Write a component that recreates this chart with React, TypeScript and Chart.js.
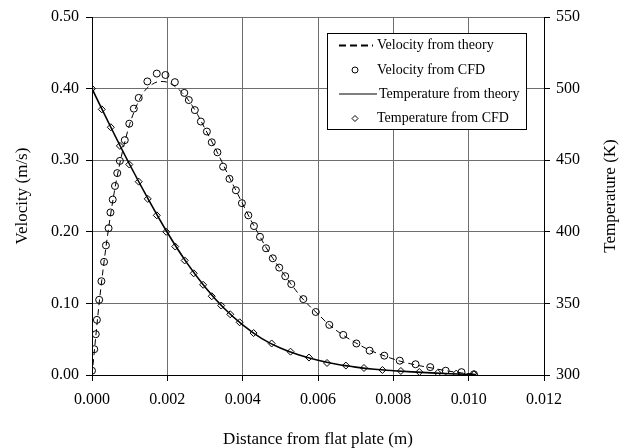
import React, { useEffect, useRef } from "react";
import { Chart, registerables } from "chart.js";

Chart.register(...registerables);

// Distance from the plate (m) and velocity (m/s) computed by CFD
const velCfdX = [
  0.0, 0.00006, 0.0001, 0.00013, 0.00019, 0.00025, 0.00032, 0.00037, 0.00044, 0.00049,
  0.00055, 0.00061, 0.00067, 0.00074, 0.00087, 0.00099, 0.00111, 0.00124, 0.00147, 0.00172,
  0.00195, 0.0022, 0.00245, 0.00257, 0.00273, 0.00289, 0.00305, 0.00318, 0.00333, 0.00348,
  0.00365, 0.00382, 0.00398, 0.00415, 0.0043, 0.00446, 0.00462, 0.0048, 0.00497, 0.00513,
  0.00529, 0.00561, 0.00594, 0.0063, 0.00667, 0.00702, 0.00737, 0.00776, 0.00817, 0.00859,
  0.00898, 0.00939, 0.00981, 0.01014,
];
const velCfdY = [
  0.006, 0.036, 0.057, 0.077, 0.105, 0.131, 0.158, 0.181, 0.205, 0.227,
  0.245, 0.264, 0.282, 0.299, 0.328, 0.351, 0.372, 0.387, 0.41, 0.421,
  0.419, 0.409, 0.394, 0.384, 0.37, 0.354, 0.34, 0.325, 0.311, 0.291,
  0.274, 0.258, 0.24, 0.223, 0.208, 0.193, 0.177, 0.163, 0.15, 0.138,
  0.127, 0.106, 0.088, 0.07, 0.056, 0.044, 0.034, 0.027, 0.02, 0.015,
  0.011, 0.006, 0.004, 0.001,
];

// Velocity profile from theory
const velTheoryX = [
  0.0, 0.0002, 0.0004, 0.0006, 0.0008, 0.001, 0.0012, 0.0014, 0.0016, 0.0018,
  0.002, 0.0022, 0.0024, 0.0026, 0.0028, 0.003, 0.0032, 0.0034, 0.0036, 0.0038,
  0.004, 0.0042, 0.0044, 0.0046, 0.0048, 0.005, 0.0052, 0.0054, 0.0056, 0.0058,
  0.006, 0.0063, 0.0066, 0.007, 0.0074, 0.0078, 0.0082, 0.0086, 0.009, 0.0094,
  0.0098, 0.0102,
];
const velTheoryY = [
  0.0, 0.105, 0.19, 0.258, 0.31, 0.35, 0.378, 0.397, 0.406, 0.41,
  0.409, 0.403, 0.394, 0.381, 0.364, 0.344, 0.324, 0.303, 0.281, 0.26,
  0.239, 0.218, 0.199, 0.18, 0.163, 0.148, 0.133, 0.119, 0.106, 0.095,
  0.085, 0.07, 0.058, 0.045, 0.034, 0.026, 0.019, 0.014, 0.01, 0.006,
  0.003, 0.001,
];

// Temperature (K) computed by CFD
const tempCfdX = [
  0.0, 0.00026, 0.0005, 0.00074, 0.00099, 0.00124, 0.00148, 0.00172, 0.00197, 0.00221,
  0.00246, 0.0027, 0.00295, 0.00318, 0.00343, 0.00367, 0.00392, 0.00429, 0.00477, 0.00527,
  0.00576, 0.00624, 0.00674, 0.00722, 0.00771, 0.0082, 0.00869, 0.00918, 0.00967, 0.01014,
];
const tempCfdY = [
  500, 485.5, 473, 460, 447, 435, 423, 411.5, 400, 389.7,
  380, 371, 363, 355, 348.5, 342.4, 336.8, 329.3, 322, 316.3,
  312.2, 308.4, 306.6, 304.9, 303.5, 302.8, 302.1, 301.4, 301, 300.5,
];

// Temperature profile from theory
const tempTheoryX = [
  0.0, 0.0005, 0.001, 0.0015, 0.002, 0.0025, 0.003, 0.0035, 0.004, 0.0045,
  0.005, 0.0055, 0.006, 0.0065, 0.007, 0.0075, 0.008, 0.0085, 0.009, 0.0095, 0.0102,
];
const tempTheoryY = [
  500, 473, 447, 422.5, 399.5, 379, 361.5, 346.8, 335, 325.6,
  318.8, 314, 310.3, 307.5, 305.5, 304, 303, 302.2, 301.5, 300.9, 300.3,
];

const legendLabels = [
  "Velocity from theory",
  "Velocity from CFD",
  "Temperature from theory",
  "Temperature from CFD",
];

const xTitle = "Distance from flat plate (m)";
const yTitle = "Velocity (m/s)";
const y2Title = "Temperature (K)";

const FONT = "'Liberation Serif', 'Times New Roman', serif";
const GRID = "#6e6e6e";

const zip = (xs: number[], ys: number[]) => xs.map((x, i) => ({ x, y: ys[i] }));

const overlayPlugin = {
  id: "overlay",
  afterDraw(chart: any) {
    const ctx: CanvasRenderingContext2D = chart.ctx;
    const area = chart.chartArea;
    ctx.save();
    ctx.fillStyle = "#000";
    ctx.font = `17px ${FONT}`;

    // axis titles
    ctx.textAlign = "center";
    ctx.textBaseline = "alphabetic";
    ctx.fillText(xTitle, (area.left + area.right) / 2, 444);

    ctx.textBaseline = "middle";
    const midY = (area.top + area.bottom) / 2;
    ctx.save();
    ctx.translate(23, midY);
    ctx.rotate(-Math.PI / 2);
    ctx.fillText(yTitle, 0, 0);
    ctx.restore();
    ctx.save();
    ctx.translate(611, midY);
    ctx.rotate(-Math.PI / 2);
    ctx.fillText(y2Title, 0, 0);
    ctx.restore();

    // legend box
    const bx = 327.5, by = 33.5, bw = 199, bh = 96;
    ctx.fillStyle = "#fff";
    ctx.fillRect(bx, by, bw, bh);
    ctx.strokeStyle = "#000";
    ctx.lineWidth = 1;
    ctx.strokeRect(bx, by, bw, bh);

    const rows = [45.5, 70, 94, 118.5];
    const sx0 = 339, sx1 = 371, sc = 355, tx = 377;
    ctx.font = `14px ${FONT}`;
    ctx.fillStyle = "#000";
    ctx.textAlign = "left";
    ctx.textBaseline = "middle";
    legendLabels.forEach((label, i) => {
      ctx.fillText(label, i === 2 ? tx + 2 : tx, rows[i]);
    });

    // row 1: dashed line
    ctx.beginPath();
    ctx.setLineDash([7, 4]);
    ctx.lineWidth = 2;
    ctx.moveTo(sx0, rows[0]);
    ctx.lineTo(sx1 + 2, rows[0]);
    ctx.stroke();
    ctx.setLineDash([]);

    // row 2: circle
    ctx.lineWidth = 1;
    ctx.beginPath();
    ctx.arc(sc, rows[1], 3, 0, Math.PI * 2);
    ctx.stroke();

    // row 3: solid line
    ctx.beginPath();
    ctx.moveTo(sx0, rows[2]);
    ctx.lineTo(tx, rows[2]);
    ctx.stroke();

    // row 4: diamond
    const d = 3;
    ctx.beginPath();
    ctx.moveTo(sc, rows[3] - d);
    ctx.lineTo(sc + d, rows[3]);
    ctx.lineTo(sc, rows[3] + d);
    ctx.lineTo(sc - d, rows[3]);
    ctx.closePath();
    ctx.stroke();

    ctx.restore();
  },
};

export default function App() {
  const canvasRef = useRef<HTMLCanvasElement | null>(null);

  useEffect(() => {
    if (!canvasRef.current) return;
    const tickFont = { family: FONT, size: 16 };
    const chart = new Chart(canvasRef.current, {
      type: "scatter",
      data: {
        datasets: [
          {
            label: legendLabels[0],
            data: zip(velTheoryX, velTheoryY),
            yAxisID: "y",
            showLine: true,
            borderColor: "#000",
            borderWidth: 1,
            borderDash: [6, 4],
            pointRadius: 0,
            cubicInterpolationMode: "monotone",
            order: 4,
          },
          {
            label: legendLabels[2],
            data: zip(tempTheoryX, tempTheoryY),
            yAxisID: "y2",
            showLine: true,
            borderColor: "#000",
            borderWidth: 1.6,
            pointRadius: 0,
            cubicInterpolationMode: "monotone",
            order: 3,
          },
          {
            label: legendLabels[1],
            data: zip(velCfdX, velCfdY),
            yAxisID: "y",
            showLine: false,
            pointStyle: "circle",
            pointRadius: 3.5,
            pointBorderWidth: 1,
            pointBorderColor: "#000",
            pointBackgroundColor: "rgba(0,0,0,0)",
            order: 2,
          },
          {
            label: legendLabels[3],
            data: zip(tempCfdX, tempCfdY),
            yAxisID: "y2",
            showLine: false,
            pointStyle: "rectRot",
            pointRadius: 3.5,
            pointBorderWidth: 1,
            pointBorderColor: "#000",
            pointBackgroundColor: "rgba(0,0,0,0)",
            order: 1,
          },
        ],
      },
      options: {
        animation: false,
        responsive: false,
        maintainAspectRatio: false,
        layout: { padding: { top: 17, left: 0, right: 0, bottom: 0 } },
        plugins: {
          legend: { display: false },
          tooltip: { enabled: false },
        },
        scales: {
          x: {
            type: "linear",
            min: 0,
            max: 0.012,
            afterFit: (s: any) => {
              s.height = 73;
            },
            ticks: {
              stepSize: 0.002,
              color: "#000",
              font: tickFont,
              padding: 9,
              maxRotation: 0,
              callback: (v: any) => Number(v).toFixed(3),
            },
            grid: { color: GRID, tickColor: "#000", tickLength: 6, lineWidth: 1 },
            border: { color: "#000", width: 1 },
          },
          y: {
            type: "linear",
            position: "left",
            min: 0,
            max: 0.5,
            afterFit: (s: any) => {
              s.width = 92;
            },
            ticks: {
              stepSize: 0.1,
              color: "#000",
              font: tickFont,
              padding: 7,
              callback: (v: any) => Number(v).toFixed(2),
            },
            grid: { color: GRID, tickColor: "#000", tickLength: 6, lineWidth: 1 },
            border: { color: "#000", width: 1 },
          },
          y2: {
            type: "linear",
            position: "right",
            min: 300,
            max: 550,
            afterFit: (s: any) => {
              s.width = 89;
            },
            ticks: {
              stepSize: 50,
              color: "#000",
              font: tickFont,
              padding: 6,
              callback: (v: any) => String(v),
            },
            grid: { drawOnChartArea: false, tickColor: "#000", tickLength: 6 },
            border: { color: "#000", width: 1 },
          },
        },
      },
      plugins: [overlayPlugin],
    });
    return () => chart.destroy();
  }, []);

  return (
    <div style={{ position: "absolute", left: 0, top: 0, width: 633, height: 448, background: "#fff" }}>
      <canvas ref={canvasRef} width={633} height={448} style={{ display: "block" }} />
    </div>
  );
}
